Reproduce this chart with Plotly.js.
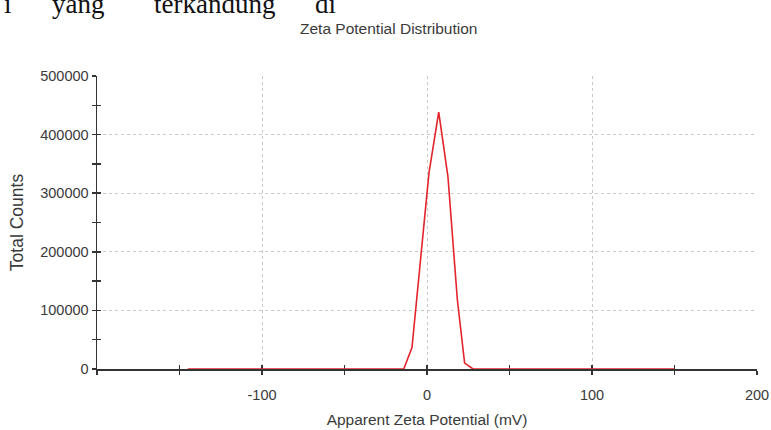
<!DOCTYPE html>
<html>
<head>
<meta charset="utf-8">
<script src="https://cdn.plot.ly/plotly-3.0.1.min.js"></script>
<style>html,body{margin:0;padding:0;background:#fff;}#chart{width:771px;height:430px;}</style>
</head>
<body>
<div id="chart"></div>
<script>
// Data
const zetaMV = [-145, -14.1, -9.1, 1.2, 7.1, 12.7, 18.4, 22.8, 27.9, 150];
const totalCounts = [0, 0, 36700, 334600, 438200, 327800, 118200, 10100, 0, 0];
const xTickVals = [-100, 0, 100, 200];
const xTickText = ['-100', '0', '100', '200'];
const yTickVals = [0, 100000, 200000, 300000, 400000, 500000];
const yTickText = ['0', '100000', '200000', '300000', '400000', '500000'];
const chartTitle = 'Zeta Potential Distribution';
const xTitle = 'Apparent Zeta Potential (mV)';
const yTitle = 'Total Counts';
const pageWords = ['i', 'yang', 'terkandung', 'di'];
const pageWordPx = [2, 50, 152, 313];

const L = 97, R = 14, T = 76, B = 61, W = 771, H = 430;
const pw = W - L - R, ph = H - T - B;

const sans = 'Liberation Sans, Arial, sans-serif';
const tickFont = {family: sans, size: 14.5, color: '#3a3a3a'};
const titleFont = {family: sans, size: 15.5, color: '#3a3a3a'};

const traces = [
  {x: zetaMV, y: totalCounts, type: 'scatter', mode: 'lines',
   line: {color: '#e3242b', width: 1.6}, hoverinfo: 'skip', showlegend: false},
  {x: [], y: [], xaxis: 'x2', yaxis: 'y2', type: 'scatter', mode: 'lines', showlegend: false}
];

const annotations = pageWords.map((w, i) => ({
  text: w, xref: 'paper', yref: 'paper',
  x: (pageWordPx[i] - L) / pw, y: 1 + (T - 21) / ph,
  xanchor: 'left', yanchor: 'bottom', showarrow: false,
  font: {family: 'Liberation Serif, Times New Roman, serif', size: 27, color: '#111'}
}));
annotations.push({
  text: chartTitle, xref: 'paper', yref: 'paper',
  x: (388 - L) / pw, y: 1 + (T - 28) / ph, xanchor: 'center', yanchor: 'middle',
  showarrow: false, font: {family: sans, size: 15.5, color: '#3a3a3a'}
});

const layout = {
  width: W, height: H,
  margin: {l: L, r: R, t: T, b: B, pad: 0},
  paper_bgcolor: '#fff', plot_bgcolor: '#fff',
  showlegend: false,
  annotations: annotations,
  xaxis: {
    range: [-200, 200], tickvals: xTickVals, ticktext: xTickText,
    showline: true, linecolor: '#333', linewidth: 1.5,
    ticks: 'outside', ticklen: 4, tickwidth: 1.5, tickcolor: '#333',
    minor: {dtick: 50, tick0: 0, ticks: 'outside', ticklen: 4, tickwidth: 1.5, tickcolor: '#333', showgrid: false},
    showgrid: true, gridcolor: '#c8c8c8', griddash: 'dot', gridwidth: 1,
    zeroline: false, tickfont: tickFont, ticklabelstandoff: 8,
    title: {text: xTitle, font: titleFont, standoff: 12},
    layer: 'below traces'
  },
  yaxis: {
    range: [0, 500000], tickvals: yTickVals, ticktext: yTickText,
    showline: true, linecolor: '#333', linewidth: 1.5,
    ticks: 'outside', ticklen: 4, tickwidth: 1.5, tickcolor: '#333',
    minor: {dtick: 50000, tick0: 0, ticks: 'outside', ticklen: 4, tickwidth: 1.5, tickcolor: '#333', showgrid: false},
    showgrid: true, gridcolor: '#c8c8c8', griddash: 'dot', gridwidth: 1,
    zeroline: false, tickfont: tickFont, ticklabelstandoff: 0,
    title: {text: yTitle, font: {family: sans, size: 17.5, color: '#3a3a3a'}, standoff: 12},
    layer: 'below traces'
  },
  xaxis2: {
    overlaying: 'x', range: [-200, 200], dtick: 50, tick0: 0,
    ticks: 'inside', ticklen: 4, tickwidth: 1.5, tickcolor: '#333',
    showticklabels: false, showgrid: false, zeroline: false, showline: false,
    layer: 'below traces'
  },
  yaxis2: {
    overlaying: 'y', range: [0, 500000], dtick: 50000, tick0: 0,
    ticks: 'inside', ticklen: 4, tickwidth: 1.5, tickcolor: '#333',
    showticklabels: false, showgrid: false, zeroline: false, showline: false,
    layer: 'below traces'
  }
};

Plotly.newPlot('chart', traces, layout, {staticPlot: true, displayModeBar: false});
</script>
</body>
</html>
